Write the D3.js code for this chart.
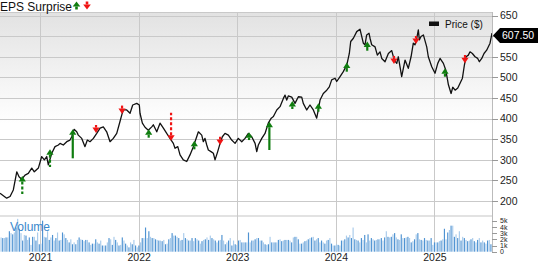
<!DOCTYPE html>
<html lang="en">
<head>
  <meta charset="UTF-8" />
  <title>Price and EPS Surprise</title>
  <script src="https://d3js.org/d3.v7.min.js"></script>
  <style>
    body {
      margin: 0;
      background: #fff;
    }

    svg {
      display: block;
      font-family: "Liberation Sans", Arial, sans-serif;
    }

    .grid line {
      stroke: #c9c9c9;
      stroke-width: 1;
      shape-rendering: crispEdges;
    }

    .axis path {
      display: none;
    }

    .axis line {
      stroke: #999;
      shape-rendering: crispEdges;
    }

    .axis text {
      fill: #222;
    }
  </style>
</head>

<body>
  <script>
    // year ticks on the time axis
    var years = [2021, 2022, 2023, 2024, 2025];
    // price ticks ($)
    var priceTicks = [200, 250, 300, 350, 400, 450, 500, 550, 600, 650];
    // volume ticks (thousands)
    var volumeTicks = [0, 1, 2, 3, 4, 5];

    // price series, dates as decimal years
    var priceDates = [
      2020.594, 2020.662, 2020.696, 2020.729, 2020.764, 2020.787, 2020.814, 2020.848, 2020.881, 2020.916,
      2020.942, 2020.983, 2021.017, 2021.044, 2021.068, 2021.084, 2021.119, 2021.152, 2021.186, 2021.203,
      2021.236, 2021.271, 2021.304, 2021.322, 2021.345, 2021.372, 2021.388, 2021.423, 2021.456, 2021.480,
      2021.507, 2021.541, 2021.575, 2021.609, 2021.642, 2021.676, 2021.710, 2021.743, 2021.778, 2021.811,
      2021.829, 2021.845, 2021.879, 2021.913, 2021.940, 2021.981, 2022.007, 2022.014, 2022.038, 2022.065,
      2022.098, 2022.133, 2022.149, 2022.184, 2022.217, 2022.251, 2022.285, 2022.318, 2022.352, 2022.369,
      2022.397, 2022.420, 2022.453, 2022.488, 2022.521, 2022.555, 2022.589, 2022.606, 2022.640, 2022.656,
      2022.673, 2022.691, 2022.707, 2022.734, 2022.758, 2022.775, 2022.802, 2022.826, 2022.849, 2022.876,
      2022.910, 2022.944, 2022.978, 2023.011, 2023.046, 2023.079, 2023.113, 2023.147, 2023.181, 2023.198,
      2023.214, 2023.249, 2023.282, 2023.315, 2023.345, 2023.367, 2023.401, 2023.434, 2023.468, 2023.485,
      2023.502, 2023.518, 2023.553, 2023.586, 2023.620, 2023.654, 2023.670, 2023.705, 2023.738, 2023.772,
      2023.806, 2023.822, 2023.840, 2023.873, 2023.908, 2023.934, 2023.958, 2023.992, 2024.009, 2024.043,
      2024.076, 2024.111, 2024.137, 2024.151, 2024.178, 2024.212, 2024.245, 2024.279, 2024.296, 2024.313,
      2024.337, 2024.347, 2024.364, 2024.398, 2024.421, 2024.448, 2024.466, 2024.499, 2024.533, 2024.567,
      2024.593, 2024.618, 2024.634, 2024.668, 2024.702, 2024.735, 2024.763, 2024.786, 2024.803, 2024.821,
      2024.837, 2024.847, 2024.864, 2024.888, 2024.922, 2024.938, 2024.973, 2025.006, 2025.034, 2025.057,
      2025.091, 2025.115, 2025.142, 2025.169, 2025.186, 2025.210, 2025.237, 2025.260, 2025.284, 2025.304,
      2025.321, 2025.344, 2025.361, 2025.385, 2025.412, 2025.439, 2025.456, 2025.480, 2025.503, 2025.530,
      2025.564, 2025.584
    ];
    var priceValues = [
      219, 207, 211, 227, 271, 259, 253, 263, 267, 280,
      271, 280, 308, 300, 308, 288, 316, 332, 336, 340,
      336, 344, 348, 356, 374, 368, 360, 352, 332, 348,
      344, 352, 364, 377, 380, 368, 344, 352, 364, 393,
      409, 421, 421, 413, 433, 437, 433, 413, 389, 379,
      372, 380, 385, 368, 389, 377, 364, 352, 340, 328,
      332, 312, 300, 296, 312, 332, 356, 368, 360, 344,
      352, 336, 324, 320, 316, 300, 320, 340, 356, 364,
      360, 348, 340, 352, 344, 352, 364, 356, 340, 320,
      336, 352, 364, 389, 401, 405, 421, 429, 449, 457,
      445, 455, 452, 437, 453, 452, 437, 421, 433, 421,
      401, 421, 445, 461, 469, 477, 494, 498, 490, 502,
      514, 530, 558, 587, 595, 611, 617, 583, 579, 603,
      607, 595, 579, 574, 554, 562, 546, 538, 558, 565,
      542, 534, 550, 502, 542, 522, 550, 583, 579, 595,
      615, 591, 599, 603, 574, 550, 526, 510, 534, 546,
      534, 518, 482, 461, 476, 469, 474, 486, 498, 530,
      550, 554, 562, 558, 550, 546, 538, 546, 558, 566,
      583, 607.5
    ];
    var lastPrice = 607.50;

    // EPS surprise events: arrow tip price and stem end price
    var epsDates = [2020.820, 2021.101, 2021.332, 2021.568, 2021.832, 2022.102, 2022.329, 2022.565, 2022.826, 2023.120,
      2023.326, 2023.559, 2023.823, 2024.111, 2024.319, 2024.590, 2024.813, 2025.107, 2025.310];
    var epsType = ["beat", "beat", "beat", "miss", "miss", "beat", "miss", "beat", "miss", "beat",
      "beat", "beat", "beat", "beat", "beat", "miss", "miss", "beat", "miss"];
    var epsTip = [261, 325.5, 374, 365, 411, 374, 346, 346, 336, 367,
      392.5, 443, 437, 536, 587, 532.5, 581, 522, 534];
    var epsTail = [217, 282.6, 303.7, 384.5, 433, 353.7, 414.3, 325.5, 356, 348,
      323.8, 423.3, 416.8, 513.8, 564.7, 552, 600.4, 501.7, 554.3];
    var epsDashed = [true, true, false, true, true, false, true, false, true, false,
      false, false, false, false, false, true, true, false, true];

    // weekly volume (thousands)
    var volumeK = [
      2.3, 2.2, 2.2, 2.3, 2.3,
      3.3, 3.0, 2.8, 3.1, 3.9, 5.3, 3.7, 3.0, 1.8, 2.7,
      2.6, 1.9, 2.3, 1.1, 2.4, 2.4, 1.8, 3.1, 1.2, 1.3,
      5.0, 2.4, 2.3, 3.3, 1.9, 2.3, 2.7, 1.8, 2.2, 3.1,
      1.8, 1.9, 3.1, 2.8, 2.2, 1.9, 1.5, 2.0, 1.2, 1.5,
      1.2, 1.9, 2.3, 2.0, 1.9, 1.7, 1.9, 1.9, 1.5, 1.1,
      1.3, 1.3, 2.0, 1.5, 1.3, 1.8, 1.0, 1.0, 1.0, 1.5,
      2.2, 2.0, 1.1, 2.4, 1.9, 1.5, 1.0, 1.1, 2.3, 1.8,
      1.3, 1.0, 0.7, 1.5, 1.2, 1.9, 1.0, 0.7, 1.0, 1.5,
      2.2, 2.2, 3.9, 2.2, 3.3, 2.4, 2.2, 2.2, 2.0, 1.9,
      1.8, 1.8, 1.7, 1.9, 1.2, 1.3, 2.0, 2.2, 3.0, 2.6,
      2.6, 2.4, 2.2, 1.8, 1.9, 3.0, 2.2, 2.0, 1.8, 1.8,
      2.2, 1.7, 2.2, 2.0, 1.8, 1.3, 1.7, 1.9, 2.0, 2.3,
      1.9, 2.6, 2.2, 2.0, 1.8, 1.5, 1.8, 1.9, 2.7, 1.8,
      1.2, 1.5, 1.8, 2.2, 1.0, 1.8, 1.2, 1.1, 1.8, 1.9,
      1.5, 1.5, 1.5, 1.5, 3.1, 1.5, 1.8, 1.8, 2.0, 2.2,
      2.2, 1.8, 1.8, 1.5, 1.2, 1.1, 1.2, 2.4, 1.5, 1.5,
      1.5, 1.5, 1.9, 2.0, 1.7, 1.8, 1.9, 1.9, 1.9, 1.8,
      1.5, 2.3, 2.4, 2.4, 2.0, 1.3, 1.3, 1.5, 1.7, 1.8,
      2.0, 2.2, 2.3, 2.4, 1.8, 2.0, 2.2, 1.5, 1.8, 1.5,
      1.3, 1.8, 1.9, 2.2, 1.3, 1.0, 1.0, 1.2, 1.1, 1.0,
      1.8, 1.8, 2.0, 2.6, 2.3, 2.7, 2.2, 3.9, 2.0, 1.9,
      1.8, 1.5, 2.2, 1.9, 2.7, 1.5, 2.8, 1.8, 2.2, 2.0,
      1.8, 1.9, 2.0, 2.0, 2.2, 1.8, 2.3, 3.3, 2.4, 2.3,
      2.4, 2.8, 3.0, 2.3, 2.0, 1.9, 2.8, 2.2, 2.2, 2.3,
      2.4, 2.2, 1.5, 1.7, 2.0, 2.8, 3.0, 2.0, 1.9, 1.8,
      2.2, 1.9, 1.8, 1.8, 2.2, 1.1, 1.5, 1.5, 1.5, 1.7,
      1.8, 2.0, 3.7, 2.0, 3.1, 3.5, 4.2, 4.2, 2.4, 2.8,
      2.2, 3.3, 1.8, 2.4, 2.2, 1.9, 1.7, 1.8, 2.0, 2.2,
      1.7, 1.5, 1.9, 2.2, 1.5, 1.8, 1.5, 1.3, 1.8, 1.9,
      1.2
    ];

    var width = 538, height = 262;
    var plotRight = 492;
    var priceTop = 12, priceBottom = 215;
    var volTop = 217, volBottom = 251.7;
    var green = "#0f7d0f", red = "#f01414";

    var x = d3.scaleLinear().domain([2020.594, 2025.584]).range([0, plotRight]);
    var y = d3.scaleLinear().domain([166.2, 658.6]).range([priceBottom, priceTop]);
    var vy = d3.scaleLinear().domain([0, 5]).range([volBottom, 220.7]);
    var vx = d3.scaleBand().domain(d3.range(volumeK.length)).range([0, plotRight]).padding(0.3);

    var svg = d3.select("body").append("svg")
      .attr("width", width)
      .attr("height", height);

    var defs = svg.append("defs");
    var grad = defs.append("linearGradient")
      .attr("id", "bg").attr("x1", 0).attr("y1", 0).attr("x2", 0).attr("y2", 1);
    grad.append("stop").attr("offset", "0%").attr("stop-color", "#e2e2e2");
    grad.append("stop").attr("offset", "55%").attr("stop-color", "#ffffff");
    defs.append("clipPath").attr("id", "clip")
      .append("rect").attr("x", 0).attr("y", priceTop).attr("width", plotRight).attr("height", priceBottom - priceTop);

    // backgrounds
    svg.append("rect")
      .attr("x", 0).attr("y", priceTop)
      .attr("width", plotRight).attr("height", priceBottom - priceTop)
      .attr("fill", "url(#bg)");
    svg.append("rect")
      .attr("x", 0).attr("y", priceBottom)
      .attr("width", plotRight).attr("height", volTop - priceBottom)
      .attr("fill", "#e2e2e2");

    // grid
    var grid = svg.append("g").attr("class", "grid");
    grid.selectAll(".h").data(priceTicks).enter().append("line")
      .attr("x1", 0).attr("x2", plotRight)
      .attr("y1", function (d) { return Math.round(y(d)) + 0.5; })
      .attr("y2", function (d) { return Math.round(y(d)) + 0.5; });
    grid.append("line")
      .attr("x1", 0).attr("x2", plotRight)
      .attr("y1", priceTop + 0.5).attr("y2", priceTop + 0.5);
    grid.selectAll(".v").data(years).enter().append("line")
      .attr("x1", function (d) { return Math.round(x(d)) + 0.5; })
      .attr("x2", function (d) { return Math.round(x(d)) + 0.5; })
      .attr("y1", priceTop).attr("y2", volBottom);
    grid.append("line")
      .attr("x1", plotRight + 0.5).attr("x2", plotRight + 0.5)
      .attr("y1", priceTop).attr("y2", volBottom + 0.5)
      .style("stroke", "#bbb");

    // volume bars
    svg.append("g").selectAll("rect").data(volumeK).enter().append("rect")
      .attr("x", function (d, i) { return vx(i); })
      .attr("width", vx.bandwidth())
      .attr("y", function (d) { return vy(d); })
      .attr("height", function (d) { return volBottom - vy(d); })
      .attr("fill", function (d, i) { return i % 2 ? "#4f93d2" : "#a9cbeb"; });

    svg.append("text")
      .attr("x", 10).attr("y", 231)
      .style("font-size", "12px")
      .attr("fill", "#3a88cc")
      .text("Volume");

    // price line
    var line = d3.line()
      .x(function (i) { return x(priceDates[i]); })
      .y(function (i) { return y(priceValues[i]); });
    svg.append("path")
      .attr("clip-path", "url(#clip)")
      .attr("d", line(d3.range(priceDates.length)))
      .attr("fill", "none")
      .attr("stroke", "#111")
      .attr("stroke-width", 1.3)
      .attr("stroke-linejoin", "round");

    // arrow glyph: tip at (cx, tipY); stem to tailY
    function arrow(g, cx, tipY, tailY, up, color, dashed, hw, hh, sw) {
      var baseY = up ? tipY + hh : tipY - hh;
      if ((up && tailY > baseY) || (!up && tailY < baseY)) {
        g.append("line")
          .attr("x1", cx).attr("x2", cx)
          .attr("y1", baseY).attr("y2", tailY)
          .attr("stroke", color)
          .attr("stroke-width", sw)
          .attr("stroke-dasharray", dashed ? "3,2" : null);
      }
      g.append("path")
        .attr("d", "M" + cx + "," + tipY + "L" + (cx + hw) + "," + baseY + "L" + (cx - hw) + "," + baseY + "Z")
        .attr("fill", color);
    }

    var eps = svg.append("g");
    epsDates.forEach(function (t, i) {
      var beat = epsType[i] === "beat";
      arrow(eps, x(t), y(epsTip[i]), y(epsTail[i]), beat, beat ? green : red, epsDashed[i], 3.6, 5.5, 2.2);
    });

    // price axis (600 sits under the last price label)
    svg.append("g")
      .attr("class", "axis")
      .attr("transform", "translate(" + plotRight + ",0)")
      .call(d3.axisRight(y).tickValues(priceTicks).tickSize(6).tickPadding(2)
        .tickFormat(function (d) { return d === 600 ? "" : d; }))
      .selectAll("text").style("font-size", "10.5px");

    // volume axis
    svg.append("g")
      .attr("class", "axis")
      .attr("transform", "translate(" + plotRight + ",0)")
      .call(d3.axisRight(vy).tickValues(volumeTicks).tickSize(5).tickPadding(3)
        .tickFormat(function (d) { return d ? d + "k" : "0"; }))
      .selectAll("text").style("font-size", "7px");

    // time axis
    svg.append("g")
      .attr("class", "axis")
      .attr("transform", "translate(0," + volBottom + ")")
      .call(d3.axisBottom(x).tickValues(years).tickSize(0).tickPadding(1.8).tickFormat(d3.format("d")))
      .selectAll("text").style("font-size", "10.5px");

    // last price label
    var ly = y(lastPrice) + 2.5;
    svg.append("path")
      .attr("d", "M493," + ly + "L500," + (ly - 7.5) + "L538," + (ly - 7.5) + "L538," + (ly + 7.5) + "L500," + (ly + 7.5) + "Z")
      .attr("fill", "#000");
    svg.append("text")
      .attr("x", 502).attr("y", ly + 3.7)
      .attr("fill", "#fff")
      .style("font-size", "10.5px")
      .text(d3.format(".2f")(lastPrice));

    // legend
    svg.append("rect")
      .attr("x", 429).attr("y", 21.5).attr("width", 10).attr("height", 4.5)
      .attr("fill", "#111");
    svg.append("text")
      .attr("x", 445).attr("y", 27.5)
      .style("font-size", "10px")
      .attr("fill", "#111")
      .text("Price ($)");

    // title
    svg.append("text")
      .attr("x", 0).attr("y", 11)
      .style("font-size", "12px")
      .attr("fill", "#111")
      .text("EPS Surprise");
    var head = svg.append("g");
    arrow(head, 76.5, 1.5, 9.5, true, green, false, 3.8, 5, 2.6);
    arrow(head, 87, 9.5, 1.5, false, red, false, 3.8, 5, 2.6);
  </script>
</body>

</html>
